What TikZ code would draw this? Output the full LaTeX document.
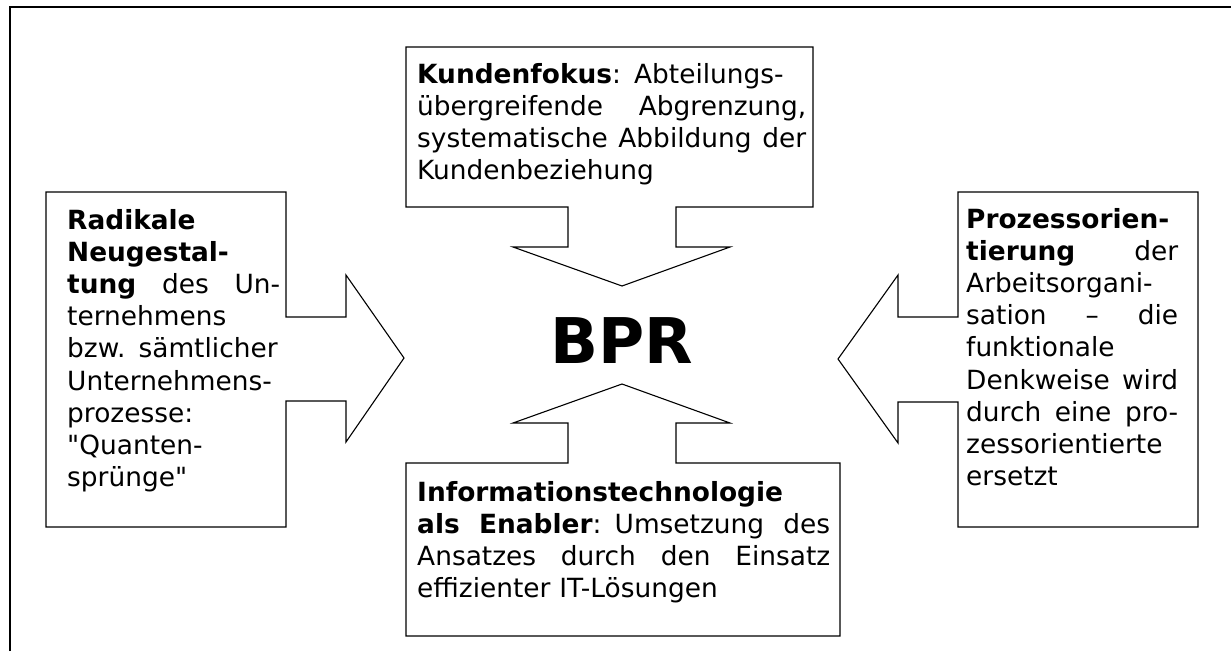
\documentclass[tikz,border=0pt]{standalone}
\usepackage{fontspec}
\setmainfont{DejaVu Sans}[Ligatures=TeXOff]
\newcommand\jl[1]{\makebox[\linewidth][s]{\spaceskip=\fontdimen2\font plus 1fil\relax #1}\\}
\begin{document}
\begin{tikzpicture}[x=1pt,y=-1pt,
  callout/.style={draw=black,line width=1.1pt,fill=white,line join=miter},
  txt/.style={inner sep=0pt,anchor=base west,align=left,font=\fontsize{26.4}{32.2}\selectfont},
  frameline/.style={line width=2pt,line join=miter}]
\useasboundingbox (0,0) rectangle (1231,651);
% outer frame (top and left only)
\draw[frameline] (10,651) -- (10,6.5) -- (1231,6.5);
% left callout
\draw[callout] (46,192) -- (286,192) -- (286,317) -- (346,317) -- (346,275) -- (404,358)
  -- (346,442) -- (346,401) -- (286,401) -- (286,527) -- (46,527) -- cycle;
% top callout
\draw[callout] (406,47) -- (813,47) -- (813,207) -- (676,207) -- (676,247) -- (730,247)
  -- (622,286) -- (513,247) -- (568,247) -- (568,207) -- (406,207) -- cycle;
% bottom callout
\draw[callout] (406,636) -- (406,463) -- (568,463) -- (568,423) -- (513,423) -- (622,384)
  -- (730,423) -- (676,423) -- (676,463) -- (840,463) -- (840,636) -- cycle;
% right callout
\draw[callout] (1198,192) -- (958,192) -- (958,317) -- (898,317) -- (898,275) -- (838,359)
  -- (898,443) -- (898,402) -- (958,402) -- (958,527) -- (1198,527) -- cycle;
% texts
\node[txt,text width=213pt] (radikal) at (67,229) {%
\textbf{Radikale}\\
\textbf{Neugestal-}\\
\jl{\textbf{tung} des Un-}
ternehmens\\
\jl{bzw. sämtlicher}
Unternehmens-\\
prozesse:\\
"Quanten-\\
sprünge"};
\node[txt,text width=389pt] (kunden) at (417,83) {%
\jl{\textbf{Kundenfokus}: Abteilungs-}
\jl{übergreifende Abgrenzung,}
\jl{systematische Abbildung der}
Kundenbeziehung};
\node[txt,text width=413pt] (info) at (417,501) {%
\textbf{Informationstechnologie}\\
\jl{\textbf{als Enabler}: Umsetzung des}
\jl{Ansatzes durch den Einsatz}
effizienter IT-Lösungen};
\node[txt,text width=212pt] (prozess) at (966,228) {%
\textbf{Prozessorien-}\\
\jl{\textbf{tierung} der}
Arbeitsorgani-\\
\jl{sation – die}
funktionale\\
\jl{Denkweise wird}
\jl{durch eine pro-}
zessorientierte\\
ersetzt};
\node[inner sep=0pt,anchor=base,font=\fontsize{63}{70}\selectfont\bfseries] (bpr) at (622,363) {BPR};
\end{tikzpicture}
\end{document}
